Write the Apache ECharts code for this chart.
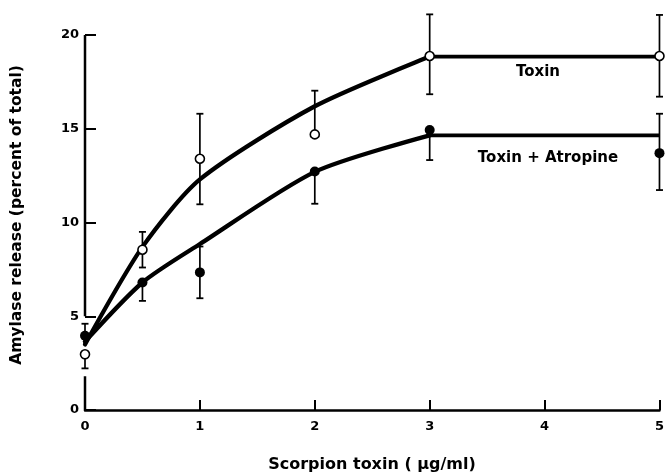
<!DOCTYPE html>
<html>
<head>
<meta charset="utf-8">
<script src="https://cdn.jsdelivr.net/npm/echarts@6/dist/echarts.min.js"></script>
<style>
html,body{margin:0;padding:0;background:#fff;}
#chart{width:667px;height:473px;}
</style>
</head>
<body>
<div id="chart"></div>
<script>
// ---- data ----
var doseX = [0, 0.5, 1, 2, 3, 5];
var toxinMean = [2.97, 8.55, 13.4, 14.7, 18.88, 18.88];
var toxinLow  = [2.22, 7.6, 10.97, 14.7, 16.84, 16.71];
var toxinHigh = [2.97, 9.5, 15.8, 17.03, 21.1, 21.07];
var atropMean = [3.96, 6.8, 7.34, 12.72, 14.93, 13.7];
var atropLow  = [3.96, 5.82, 5.96, 11.0, 13.33, 11.73];
var atropHigh = [4.6, 6.8, 8.72, 12.72, 14.93, 15.8];
// fitted curves as drawn (rising part, then plateau from 3 to 5)
var toxinCurveX = [0, 0.5, 1, 2, 3];
var toxinCurveY = [3.5, 8.7, 12.3, 16.2, 18.85];
var toxinPlateauX = [3, 5];
var toxinPlateauY = [18.85, 18.85];
var atropCurveX = [0, 0.5, 1, 2, 3];
var atropCurveY = [3.65, 6.8, 8.85, 12.7, 14.65];
var atropPlateauX = [3, 5];
var atropPlateauY = [14.65, 14.65];
var xTicks = [0, 1, 2, 3, 4, 5];
var yTicks = [0, 5, 10, 15, 20];
var yAxisSegments = [[0, 1.8], [5, 20]];
var seriesNames = ['Toxin', 'Toxin + Atropine'];
var xTitle = 'Scorpion toxin ( \u00b5g/ml)';
var yTitle = 'Amylase release (percent of total)';

function pairs(xs, ys){ return xs.map(function(x,i){ return [x, ys[i]]; }); }
function errData(mean, low, high){ return doseX.map(function(x,i){ return [x, mean[i], low[i], high[i]]; }); }

var FONT = 'DejaVu Sans';

function errRender(params, api){
  var x = api.value(0), m = api.value(1), lo = api.value(2), hi = api.value(3);
  var pLo = api.coord([x, lo]), pHi = api.coord([x, hi]);
  var cap = 3.5;
  var children = [{
    type: 'line',
    shape: {x1: pLo[0], y1: pLo[1], x2: pHi[0], y2: pHi[1]},
    style: {stroke: '#000', lineWidth: 1.7}
  }];
  if (hi > m) children.push({type:'line', shape:{x1:pHi[0]-cap, y1:pHi[1], x2:pHi[0]+cap, y2:pHi[1]}, style:{stroke:'#000', lineWidth:1.8}});
  if (lo < m) children.push({type:'line', shape:{x1:pLo[0]-cap, y1:pLo[1], x2:pLo[0]+cap, y2:pLo[1]}, style:{stroke:'#000', lineWidth:1.8}});
  return {type:'group', children: children};
}

function axisSegRender(params, api){
  var a = api.coord([0, api.value(0)]), b = api.coord([0, api.value(1)]);
  return {type:'line', shape:{x1:a[0], y1:a[1], x2:b[0], y2:b[1]}, style:{stroke:'#000', lineWidth:2.5}};
}

var chart = echarts.init(document.getElementById('chart'), null, {renderer:'canvas'});
chart.setOption({
  animation: false,
  backgroundColor: '#fff',
  grid: {left: 85, right: 4, top: 35, bottom: 63, containLabel: false},
  xAxis: {
    type: 'value', min: xTicks[0], max: xTicks[xTicks.length-1], interval: 1,
    axisLine: {show: true, onZero: false, lineStyle: {color:'#000', width: 2.5}},
    axisTick: {show: true, inside: true, length: 10, lineStyle: {color:'#000', width: 2}},
    axisLabel: {color:'#000', fontFamily: FONT, fontWeight:'bold', fontSize: 13, margin: 10},
    splitLine: {show: false}
  },
  yAxis: {
    type: 'value', min: yTicks[0], max: yTicks[yTicks.length-1], interval: 5,
    axisLine: {show: false},
    axisTick: {show: true, inside: true, length: 11, lineStyle: {color:'#000', width: 2}},
    axisLabel: {color:'#000', fontFamily: FONT, fontWeight:'bold', fontSize: 13, margin: 6},
    splitLine: {show: false}
  },
  graphic: [
    {type:'text', x: 372, y: 465, style:{text: xTitle, font: 'bold 16px "DejaVu Sans"', fill:'#000', align:'center', verticalAlign:'middle'}},
    {type:'text', x: 17, y: 215, rotation: Math.PI/2, style:{text: yTitle, font: 'bold 15.5px "DejaVu Sans"', fill:'#000', align:'center', verticalAlign:'middle'}},
    {type:'text', x: 538, y: 72, style:{text: seriesNames[0], font: 'bold 15px "DejaVu Sans"', fill:'#000', align:'center', verticalAlign:'middle'}},
    {type:'text', x: 548, y: 158, style:{text: seriesNames[1], font: 'bold 15px "DejaVu Sans"', fill:'#000', align:'center', verticalAlign:'middle'}}
  ],
  series: [
    {type:'custom', name:'yaxis', renderItem: axisSegRender, data: yAxisSegments, clip: false, silent: true, z: 1,
      encode: {y: [0, 1]}},
    {type:'line', name: seriesNames[0] + ' curve', data: pairs(toxinCurveX, toxinCurveY), smooth: 0.25,
      symbol: 'none', lineStyle: {color:'#000', width: 4.3, cap: 'round'}, z: 2},
    {type:'line', name: seriesNames[0] + ' plateau', data: pairs(toxinPlateauX, toxinPlateauY),
      symbol: 'none', lineStyle: {color:'#000', width: 3.8}, z: 2},
    {type:'line', name: seriesNames[1] + ' curve', data: pairs(atropCurveX, atropCurveY), smooth: 0.25,
      symbol: 'none', lineStyle: {color:'#000', width: 4.3, cap: 'round'}, z: 2},
    {type:'line', name: seriesNames[1] + ' plateau', data: pairs(atropPlateauX, atropPlateauY),
      symbol: 'none', lineStyle: {color:'#000', width: 3.8}, z: 2},
    {type:'custom', name: seriesNames[0] + ' err', renderItem: errRender, data: errData(toxinMean, toxinLow, toxinHigh), clip: false, z: 3,
      encode: {x: 0, y: [1, 2, 3]}},
    {type:'custom', name: seriesNames[1] + ' err', renderItem: errRender, data: errData(atropMean, atropLow, atropHigh), clip: false, z: 3,
      encode: {x: 0, y: [1, 2, 3]}},
    {type:'scatter', name: seriesNames[0], data: pairs(doseX, toxinMean), symbol:'circle', symbolSize: 9, clip: false,
      itemStyle: {color:'#fff', borderColor:'#000', borderWidth: 1.6, opacity: 1}, z: 4},
    {type:'scatter', name: seriesNames[1], data: pairs(doseX, atropMean), symbol:'circle', symbolSize: 10, clip: false,
      itemStyle: {color:'#000', opacity: 1}, z: 4}
  ]
});
</script>
</body>
</html>
